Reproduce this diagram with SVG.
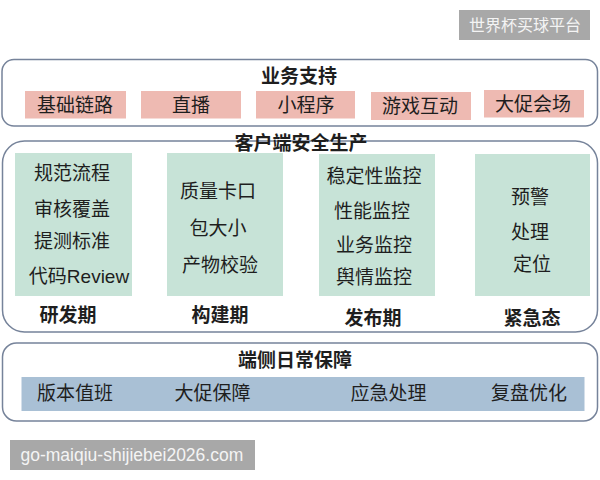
<svg xmlns="http://www.w3.org/2000/svg" width="600" height="480" viewBox="0 0 600 480">
<style>
text{font-family:"Liberation Sans","Noto Sans CJK SC",sans-serif;fill:#1e1e1e;text-anchor:middle}
.t{font-size:19px;font-weight:bold}
.n{font-size:19px}
.frame{fill:#fff;stroke:#76839a;stroke-width:1.5}
.pink{fill:#eebab2}
.green{fill:#c7e3d7}
.blue{fill:#a9c0d5}
.wm{fill:#a8a8a8}
.wmt{fill:#f4f4f4;font-size:16px}
</style>
<rect width="600" height="480" fill="#fff"/>
<g id="watermark-top">
<rect class="wm" x="459" y="10" width="131" height="30"/>
<text class="wmt" x="525" y="31">世界杯买球平台</text>
</g>
<g id="business-support">
<rect class="frame" x="2" y="59.5" width="595.5" height="66.5" rx="12"/>
<text class="t" x="299" y="83">业务支持</text>
<g id="biz-1"><rect class="pink" x="25" y="91" width="101" height="27.5"/><text class="n" x="75" y="111.5">基础链路</text></g>
<g id="biz-2"><rect class="pink" x="141" y="91" width="100" height="27.5"/><text class="n" x="191" y="111.5">直播</text></g>
<g id="biz-3"><rect class="pink" x="256" y="91" width="99" height="27.5"/><text class="n" x="306" y="111.5">小程序</text></g>
<g id="biz-4"><rect class="pink" x="371" y="92" width="100" height="28"/><text class="n" x="420" y="113">游戏互动</text></g>
<g id="biz-5"><rect class="pink" x="484" y="90" width="100" height="27.5"/><text class="n" x="533" y="111">大促会场</text></g>
</g>
<g id="client-safety">
<rect class="frame" x="2.5" y="141" width="595" height="191" rx="22"/>
<text class="t" x="301" y="150">客户端安全生产</text>
<g id="dev">
<rect class="green" x="15" y="153" width="117" height="143"/>
<text class="n" x="72" y="180">规范流程</text>
<text class="n" x="72" y="216">审核覆盖</text>
<text class="n" x="72" y="247.5">提测标准</text>
<text class="n" x="79" y="283">代码Review</text>
<text class="t" x="68" y="322">研发期</text>
</g>
<g id="build">
<rect class="green" x="167" y="153" width="116" height="143"/>
<text class="n" x="218" y="197.5">质量卡口</text>
<text class="n" x="218" y="234.5">包大小</text>
<text class="n" x="220" y="272">产物校验</text>
<text class="t" x="220" y="322">构建期</text>
</g>
<g id="release">
<rect class="green" x="319" y="154" width="116" height="142"/>
<text class="n" x="374" y="183">稳定性监控</text>
<text class="n" x="372" y="218">性能监控</text>
<text class="n" x="374" y="251.5">业务监控</text>
<text class="n" x="374" y="283.5">舆情监控</text>
<text class="t" x="373" y="325">发布期</text>
</g>
<g id="emergency">
<rect class="green" x="475" y="154" width="115" height="142"/>
<text class="n" x="530" y="204">预警</text>
<text class="n" x="530" y="239">处理</text>
<text class="n" x="532" y="271">定位</text>
<text class="t" x="532" y="325">紧急态</text>
</g>
</g>
<g id="daily-guarantee">
<rect class="frame" x="2.5" y="343" width="595" height="78" rx="14"/>
<text class="t" x="295" y="367">端侧日常保障</text>
<rect class="blue" x="21.5" y="377" width="563" height="34"/>
<g id="daily-1"><text class="n" x="75" y="400">版本值班</text></g>
<g id="daily-2"><text class="n" x="212.5" y="400">大促保障</text></g>
<g id="daily-3"><text class="n" x="388.5" y="400">应急处理</text></g>
<g id="daily-4"><text class="n" x="529" y="400">复盘优化</text></g>
</g>
<g id="connectors"/>
<g id="watermark-bottom">
<rect class="wm" x="10" y="440" width="245" height="30"/>
<text class="wmt" x="20.5" y="461" style="text-anchor:start;font-size:17.5px">go-maiqiu-shijiebei2026.com</text>
</g>
</svg>
